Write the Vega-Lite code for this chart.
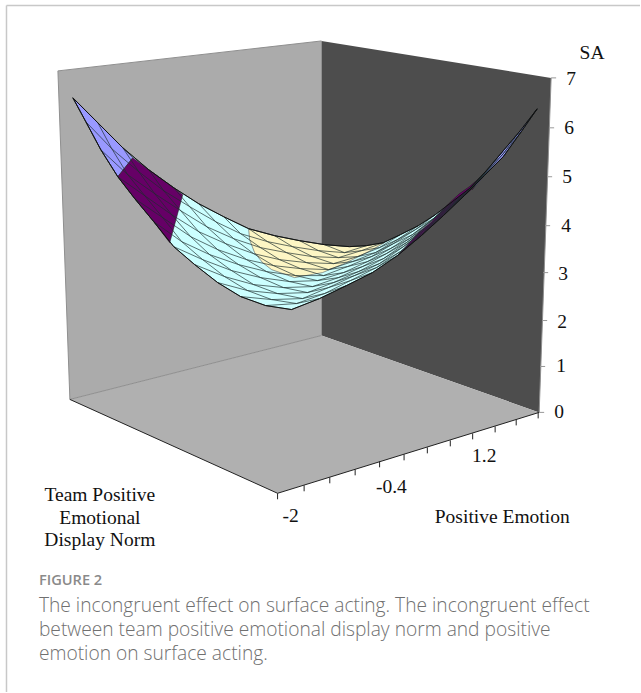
{"$schema":"https://vega.github.io/schema/vega-lite/v6.json","width":641,"height":693,"padding":0,"autosize":{"type":"fit","contains":"padding"},"background":"white","view":{"stroke":null},
"datasets":{
"walls":[{"w":"left","o":0,"x":58,"y":71},{"w":"left","o":1,"x":322,"y":41},{"w":"left","o":2,"x":322,"y":336},{"w":"left","o":3,"x":70,"y":400},{"w":"left","o":4,"x":58,"y":71},
{"w":"right","o":0,"x":322,"y":41},{"w":"right","o":1,"x":552,"y":78},{"w":"right","o":2,"x":540,"y":413},{"w":"right","o":3,"x":322,"y":336},{"w":"right","o":4,"x":322,"y":41},
{"w":"floor","o":0,"x":70,"y":400},{"w":"floor","o":1,"x":322,"y":336},{"w":"floor","o":2,"x":540,"y":413},{"w":"floor","o":3,"x":278,"y":494},{"w":"floor","o":4,"x":70,"y":400}],
"surf":[
{"b":"cyan","o":0,"x":292,"y":310},{"b":"cyan","o":1,"x":320,"y":299},{"b":"cyan","o":2,"x":347,"y":286},{"b":"cyan","o":3,"x":373,"y":273},{"b":"cyan","o":4,"x":398,"y":256},{"b":"cyan","o":5,"x":422,"y":236},{"b":"cyan","o":6,"x":444,"y":216},{"b":"cyan","o":7,"x":465,"y":196},{"b":"cyan","o":8,"x":485,"y":176},{"b":"cyan","o":9,"x":504,"y":157},{"b":"cyan","o":10,"x":522,"y":132},{"b":"cyan","o":11,"x":538,"y":109},
{"b":"cyan","o":12,"x":521,"y":131},{"b":"cyan","o":13,"x":504,"y":151},{"b":"cyan","o":14,"x":487,"y":171},{"b":"cyan","o":15,"x":470,"y":189},{"b":"cyan","o":16,"x":453,"y":202},{"b":"cyan","o":17,"x":436,"y":215},{"b":"cyan","o":18,"x":419,"y":226},{"b":"cyan","o":19,"x":401,"y":235},{"b":"cyan","o":20,"x":384,"y":243},{"b":"cyan","o":21,"x":367,"y":246},{"b":"cyan","o":22,"x":350,"y":247},
{"b":"cyan","o":23,"x":325,"y":245},{"b":"cyan","o":24,"x":300,"y":241},{"b":"cyan","o":25,"x":275,"y":236},{"b":"cyan","o":26,"x":249,"y":229},{"b":"cyan","o":27,"x":224,"y":217},{"b":"cyan","o":28,"x":199,"y":204},{"b":"cyan","o":29,"x":174,"y":188},{"b":"cyan","o":30,"x":149,"y":170},{"b":"cyan","o":31,"x":123,"y":148},{"b":"cyan","o":32,"x":98,"y":123},{"b":"cyan","o":33,"x":73,"y":98},
{"b":"cyan","o":34,"x":86,"y":122},{"b":"cyan","o":35,"x":101,"y":150},{"b":"cyan","o":36,"x":118,"y":177},{"b":"cyan","o":37,"x":135,"y":199},{"b":"cyan","o":38,"x":154,"y":222},{"b":"cyan","o":39,"x":174,"y":247},{"b":"cyan","o":40,"x":195,"y":265},{"b":"cyan","o":41,"x":218,"y":283},{"b":"cyan","o":42,"x":241,"y":297},{"b":"cyan","o":43,"x":266,"y":306},{"b":"cyan","o":44,"x":292,"y":310},
{"b":"peri","o":0,"x":73,"y":98},{"b":"peri","o":1,"x":98,"y":123},{"b":"peri","o":2,"x":123,"y":148},{"b":"peri","o":3,"x":133,"y":158},{"b":"peri","o":4,"x":118,"y":177},{"b":"peri","o":5,"x":101,"y":150},{"b":"peri","o":6,"x":86,"y":122},{"b":"peri","o":7,"x":73,"y":98},
{"b":"plum","o":0,"x":118,"y":177},{"b":"plum","o":1,"x":133,"y":158},{"b":"plum","o":2,"x":149,"y":170},{"b":"plum","o":3,"x":174,"y":188},{"b":"plum","o":4,"x":183,"y":195},{"b":"plum","o":5,"x":170,"y":243},{"b":"plum","o":6,"x":154,"y":222},{"b":"plum","o":7,"x":135,"y":199},{"b":"plum","o":8,"x":118,"y":177},
{"b":"cream","o":0,"x":249,"y":229},{"b":"cream","o":1,"x":275,"y":236},{"b":"cream","o":2,"x":300,"y":241},{"b":"cream","o":3,"x":325,"y":245},{"b":"cream","o":4,"x":350,"y":247},{"b":"cream","o":5,"x":367,"y":246},{"b":"cream","o":6,"x":385,"y":243},{"b":"cream","o":7,"x":373,"y":250},{"b":"cream","o":8,"x":347,"y":263},{"b":"cream","o":9,"x":323,"y":273},{"b":"cream","o":10,"x":295,"y":278},{"b":"cream","o":11,"x":272,"y":270},{"b":"cream","o":12,"x":263,"y":263},{"b":"cream","o":13,"x":255,"y":253},{"b":"cream","o":14,"x":250,"y":240},{"b":"cream","o":15,"x":249,"y":229},
{"b":"plum2","o":0,"x":398,"y":256},{"b":"plum2","o":1,"x":422,"y":236},{"b":"plum2","o":2,"x":444,"y":216},{"b":"plum2","o":3,"x":465,"y":196},{"b":"plum2","o":4,"x":473,"y":189},{"b":"plum2","o":5,"x":483,"y":176},{"b":"plum2","o":6,"x":470,"y":187},{"b":"plum2","o":7,"x":460,"y":194},{"b":"plum2","o":8,"x":443,"y":210},{"b":"plum2","o":9,"x":432,"y":222},{"b":"plum2","o":10,"x":420,"y":232},{"b":"plum2","o":11,"x":410,"y":243},{"b":"plum2","o":12,"x":398,"y":256},
{"b":"peri2","o":0,"x":473,"y":190},{"b":"peri2","o":1,"x":483,"y":176},{"b":"peri2","o":2,"x":504,"y":151},{"b":"peri2","o":3,"x":521,"y":131},{"b":"peri2","o":4,"x":538,"y":109},{"b":"peri2","o":5,"x":522,"y":132},{"b":"peri2","o":6,"x":504,"y":157},{"b":"peri2","o":7,"x":485,"y":176},{"b":"peri2","o":8,"x":473,"y":190}
],
"mesh":[
{"i":0,"j":0,"x":292,"y":310},{"i":1,"j":1,"x":297,"y":304},{"i":2,"j":2,"x":303,"y":299},{"i":3,"j":3,"x":308,"y":293},{"i":4,"j":4,"x":313,"y":287},{"i":5,"j":5,"x":318,"y":281},{"i":6,"j":6,"x":324,"y":276},{"i":7,"j":7,"x":329,"y":270},{"i":8,"j":8,"x":334,"y":264},{"i":9,"j":9,"x":339,"y":258},{"i":10,"j":10,"x":345,"y":253},{"i":11,"j":11,"x":350,"y":247},
{"i":0,"j":1,"x":266,"y":306},{"i":1,"j":2,"x":272,"y":300},{"i":2,"j":3,"x":278,"y":294},{"i":3,"j":4,"x":284,"y":288},{"i":4,"j":5,"x":290,"y":282},{"i":5,"j":6,"x":296,"y":276},{"i":6,"j":7,"x":301,"y":269},{"i":7,"j":8,"x":307,"y":263},{"i":8,"j":9,"x":313,"y":257},{"i":9,"j":10,"x":319,"y":251},{"i":10,"j":11,"x":325,"y":245},
{"i":0,"j":2,"x":241,"y":297},{"i":1,"j":3,"x":248,"y":291},{"i":2,"j":4,"x":254,"y":285},{"i":3,"j":5,"x":261,"y":278},{"i":4,"j":6,"x":267,"y":272},{"i":5,"j":7,"x":274,"y":266},{"i":6,"j":8,"x":280,"y":260},{"i":7,"j":9,"x":287,"y":253},{"i":8,"j":10,"x":293,"y":247},{"i":9,"j":11,"x":300,"y":241},
{"i":0,"j":3,"x":218,"y":283},{"i":1,"j":4,"x":225,"y":277},{"i":2,"j":5,"x":232,"y":271},{"i":3,"j":6,"x":239,"y":265},{"i":4,"j":7,"x":247,"y":260},{"i":5,"j":8,"x":254,"y":254},{"i":6,"j":9,"x":261,"y":248},{"i":7,"j":10,"x":268,"y":242},{"i":8,"j":11,"x":275,"y":236},
{"i":0,"j":4,"x":195,"y":265},{"i":1,"j":5,"x":203,"y":260},{"i":2,"j":6,"x":210,"y":255},{"i":3,"j":7,"x":218,"y":250},{"i":4,"j":8,"x":226,"y":244},{"i":5,"j":9,"x":234,"y":239},{"i":6,"j":10,"x":241,"y":234},{"i":7,"j":11,"x":249,"y":229},
{"i":0,"j":5,"x":174,"y":247},{"i":1,"j":6,"x":182,"y":242},{"i":2,"j":7,"x":191,"y":237},{"i":3,"j":8,"x":199,"y":232},{"i":4,"j":9,"x":207,"y":227},{"i":5,"j":10,"x":216,"y":222},{"i":6,"j":11,"x":224,"y":217},
{"i":0,"j":6,"x":154,"y":222},{"i":1,"j":7,"x":163,"y":218},{"i":2,"j":8,"x":172,"y":215},{"i":3,"j":9,"x":181,"y":211},{"i":4,"j":10,"x":190,"y":207},{"i":5,"j":11,"x":199,"y":204},
{"i":0,"j":7,"x":135,"y":199},{"i":1,"j":8,"x":145,"y":196},{"i":2,"j":9,"x":155,"y":194},{"i":3,"j":10,"x":164,"y":191},{"i":4,"j":11,"x":174,"y":188},
{"i":0,"j":8,"x":118,"y":177},{"i":1,"j":9,"x":128,"y":175},{"i":2,"j":10,"x":139,"y":172},{"i":3,"j":11,"x":149,"y":170},
{"i":0,"j":9,"x":101,"y":150},{"i":1,"j":10,"x":112,"y":149},{"i":2,"j":11,"x":123,"y":148},
{"i":0,"j":10,"x":86,"y":122},{"i":1,"j":11,"x":98,"y":123},
{"i":0,"j":11,"x":73,"y":98},
{"i":1,"j":0,"x":320,"y":299},{"i":2,"j":1,"x":325,"y":294},{"i":3,"j":2,"x":329,"y":288},{"i":4,"j":3,"x":334,"y":283},{"i":5,"j":4,"x":339,"y":278},{"i":6,"j":5,"x":344,"y":273},{"i":7,"j":6,"x":348,"y":267},{"i":8,"j":7,"x":353,"y":262},{"i":9,"j":8,"x":358,"y":257},{"i":10,"j":9,"x":362,"y":251},{"i":11,"j":10,"x":367,"y":246},
{"i":2,"j":0,"x":347,"y":286},{"i":3,"j":1,"x":351,"y":281},{"i":4,"j":2,"x":355,"y":276},{"i":5,"j":3,"x":359,"y":272},{"i":6,"j":4,"x":363,"y":267},{"i":7,"j":5,"x":368,"y":262},{"i":8,"j":6,"x":372,"y":257},{"i":9,"j":7,"x":376,"y":253},{"i":10,"j":8,"x":380,"y":248},{"i":11,"j":9,"x":384,"y":243},
{"i":3,"j":0,"x":373,"y":273},{"i":4,"j":1,"x":377,"y":268},{"i":5,"j":2,"x":380,"y":264},{"i":6,"j":3,"x":384,"y":259},{"i":7,"j":4,"x":387,"y":254},{"i":8,"j":5,"x":391,"y":249},{"i":9,"j":6,"x":394,"y":244},{"i":10,"j":7,"x":398,"y":240},{"i":11,"j":8,"x":401,"y":235},
{"i":4,"j":0,"x":398,"y":256},{"i":5,"j":1,"x":401,"y":252},{"i":6,"j":2,"x":404,"y":247},{"i":7,"j":3,"x":407,"y":243},{"i":8,"j":4,"x":410,"y":239},{"i":9,"j":5,"x":413,"y":235},{"i":10,"j":6,"x":416,"y":230},{"i":11,"j":7,"x":419,"y":226},
{"i":5,"j":0,"x":422,"y":236},{"i":6,"j":1,"x":424,"y":233},{"i":7,"j":2,"x":427,"y":229},{"i":8,"j":3,"x":429,"y":226},{"i":9,"j":4,"x":431,"y":222},{"i":10,"j":5,"x":434,"y":219},{"i":11,"j":6,"x":436,"y":215},
{"i":6,"j":0,"x":444,"y":216},{"i":7,"j":1,"x":446,"y":213},{"i":8,"j":2,"x":448,"y":210},{"i":9,"j":3,"x":449,"y":208},{"i":10,"j":4,"x":451,"y":205},{"i":11,"j":5,"x":453,"y":202},
{"i":7,"j":0,"x":465,"y":196},{"i":8,"j":1,"x":466,"y":194},{"i":9,"j":2,"x":468,"y":193},{"i":10,"j":3,"x":469,"y":191},{"i":11,"j":4,"x":470,"y":189},
{"i":8,"j":0,"x":485,"y":176},{"i":9,"j":1,"x":486,"y":174},{"i":10,"j":2,"x":486,"y":173},{"i":11,"j":3,"x":487,"y":171},
{"i":9,"j":0,"x":504,"y":157},{"i":10,"j":1,"x":504,"y":154},{"i":11,"j":2,"x":504,"y":151},
{"i":10,"j":0,"x":522,"y":132},{"i":11,"j":1,"x":521,"y":131},
{"i":11,"j":0,"x":538,"y":109}
],
"frame":[{"x":6.5,"y":5.5,"x2":6.5,"y2":693},{"x":6.5,"y":5.5,"x2":641,"y2":5.5}],
"wallEdges":[{"x":58,"y":71,"x2":70,"y2":400},{"x":70,"y":400,"x2":322,"y2":336},{"x":552,"y":78,"x2":540,"y2":413},{"x":58,"y":71,"x2":322,"y2":41}],
"axes":[{"x":70,"y":400,"x2":278,"y2":494},{"x":278,"y":494,"x2":540,"y2":413},
{"x":278,"y":494,"x2":278,"y2":500},{"x":304.6,"y":486,"x2":304.6,"y2":492},{"x":330.3,"y":478,"x2":330.3,"y2":484},{"x":355.7,"y":470,"x2":355.7,"y2":476},{"x":380.2,"y":462,"x2":380.2,"y2":468},{"x":404.7,"y":455,"x2":404.7,"y2":461},{"x":428,"y":448,"x2":428,"y2":454},{"x":451,"y":441,"x2":451,"y2":447},{"x":473.4,"y":434,"x2":473.4,"y2":440},{"x":495.9,"y":427,"x2":495.9,"y2":433},{"x":517,"y":420,"x2":517,"y2":426},{"x":539,"y":413,"x2":539,"y2":419}],
"zticks":[{"x":552,"y":78,"x2":557,"y2":78},{"x":550,"y":128,"x2":555,"y2":128},{"x":548,"y":177,"x2":553,"y2":177},{"x":546,"y":226,"x2":551,"y2":226},{"x":544,"y":273,"x2":549,"y2":273},{"x":543,"y":321,"x2":548,"y2":321},{"x":541,"y":367,"x2":546,"y2":367},{"x":540,"y":413,"x2":545,"y2":413}],
"serif":[{"t":"SA","x":593,"y":53},{"t":"7","x":572,"y":79},{"t":"6","x":570,"y":128},{"t":"5","x":568,"y":177},{"t":"4","x":567,"y":226},{"t":"3","x":564,"y":274},{"t":"2","x":563,"y":322},{"t":"1","x":562,"y":367},{"t":"0","x":560,"y":413},
{"t":"1.2","x":485,"y":457},{"t":"-0.4","x":392,"y":488},{"t":"-2","x":291,"y":517},{"t":"Positive Emotion","x":503,"y":518},{"t":"Team Positive","x":100,"y":496},{"t":"Emotional","x":100,"y":519},{"t":"Display Norm","x":100,"y":541}],
"fig":[{"t":"FIGURE 2","x":39,"y":582}],
"caption":[{"t":"The incongruent effect on surface acting. The incongruent effect","x":39,"y":607},{"t":"between team positive emotional display norm and positive","x":39,"y":631},{"t":"emotion on surface acting.","x":39,"y":655}]
},
"encoding":{"x":{"field":"x","type":"quantitative","scale":{"domain":[0,641],"nice":false,"zero":false},"axis":null},"y":{"field":"y","type":"quantitative","scale":{"domain":[693,0],"nice":false,"zero":false},"axis":null}},
"layer":[
{"data":{"name":"frame"},"mark":{"type":"rule","stroke":"#c8c8c8","strokeWidth":1.5},"encoding":{"x2":{"field":"x2"},"y2":{"field":"y2"}}},
{"data":{"name":"walls"},"transform":[{"filter":"datum.w==='left'"}],"mark":{"type":"line","fill":"#ababab","stroke":null,"strokeWidth":0},"encoding":{"order":{"field":"o"}}},
{"data":{"name":"walls"},"transform":[{"filter":"datum.w==='right'"}],"mark":{"type":"line","fill":"#4d4d4d","stroke":null,"strokeWidth":0},"encoding":{"order":{"field":"o"}}},
{"data":{"name":"walls"},"transform":[{"filter":"datum.w==='floor'"}],"mark":{"type":"line","fill":"#b0b0b0","stroke":null,"strokeWidth":0},"encoding":{"order":{"field":"o"}}},
{"data":{"name":"wallEdges"},"mark":{"type":"rule","stroke":"#8f8f8f","strokeWidth":1},"encoding":{"x2":{"field":"x2"},"y2":{"field":"y2"}}},
{"data":{"name":"axes"},"mark":{"type":"rule","stroke":"#222222","strokeWidth":1},"encoding":{"x2":{"field":"x2"},"y2":{"field":"y2"}}},
{"data":{"name":"zticks"},"mark":{"type":"rule","stroke":"#999999","strokeWidth":1},"encoding":{"x2":{"field":"x2"},"y2":{"field":"y2"}}},
{"data":{"name":"surf"},"transform":[{"filter":"datum.b==='cyan'"}],"mark":{"type":"line","fill":"#ccffff","stroke":null,"strokeWidth":0},"encoding":{"order":{"field":"o"}}},
{"data":{"name":"surf"},"transform":[{"filter":"datum.b==='peri'||datum.b==='peri2'"}],"mark":{"type":"line","fill":"#9999ff","stroke":"#222222","strokeWidth":0.6},"encoding":{"detail":{"field":"b"},"order":{"field":"o"}}},
{"data":{"name":"surf"},"transform":[{"filter":"datum.b==='plum'||datum.b==='plum2'"}],"mark":{"type":"line","fill":"#660066","stroke":"#222222","strokeWidth":0.6},"encoding":{"detail":{"field":"b"},"order":{"field":"o"}}},
{"data":{"name":"surf"},"transform":[{"filter":"datum.b==='cream'"}],"mark":{"type":"line","fill":"#fdf6c4","stroke":"#555555","strokeWidth":0.6},"encoding":{"order":{"field":"o"}}},
{"data":{"name":"mesh"},"mark":{"type":"line","stroke":"#1c2c2c","strokeWidth":0.8,"strokeOpacity":0.85},"encoding":{"detail":{"field":"i"},"order":{"field":"j"}}},
{"data":{"name":"mesh"},"mark":{"type":"line","stroke":"#1c2c2c","strokeWidth":0.8,"strokeOpacity":0.85},"encoding":{"detail":{"field":"j"},"order":{"field":"i"}}},
{"data":{"name":"surf"},"transform":[{"filter":"datum.b==='cyan'"}],"mark":{"type":"line","stroke":"#111111","strokeWidth":1},"encoding":{"order":{"field":"o"}}},
{"data":{"name":"serif"},"mark":{"type":"text","font":"Liberation Serif","fontSize":19.5,"fill":"#111111","align":"center","baseline":"middle"},"encoding":{"text":{"field":"t"}}},
{"data":{"name":"fig"},"mark":{"type":"text","font":"Open Sans","fontSize":14.6,"fontWeight":600,"fill":"#8a8a8a","align":"left","baseline":"middle"},"encoding":{"text":{"field":"t"}}},
{"data":{"name":"caption"},"mark":{"type":"text","font":"Open Sans","fontSize":19.2,"fontWeight":300,"fill":"#707070","align":"left","baseline":"middle"},"encoding":{"text":{"field":"t"}}}
]}
